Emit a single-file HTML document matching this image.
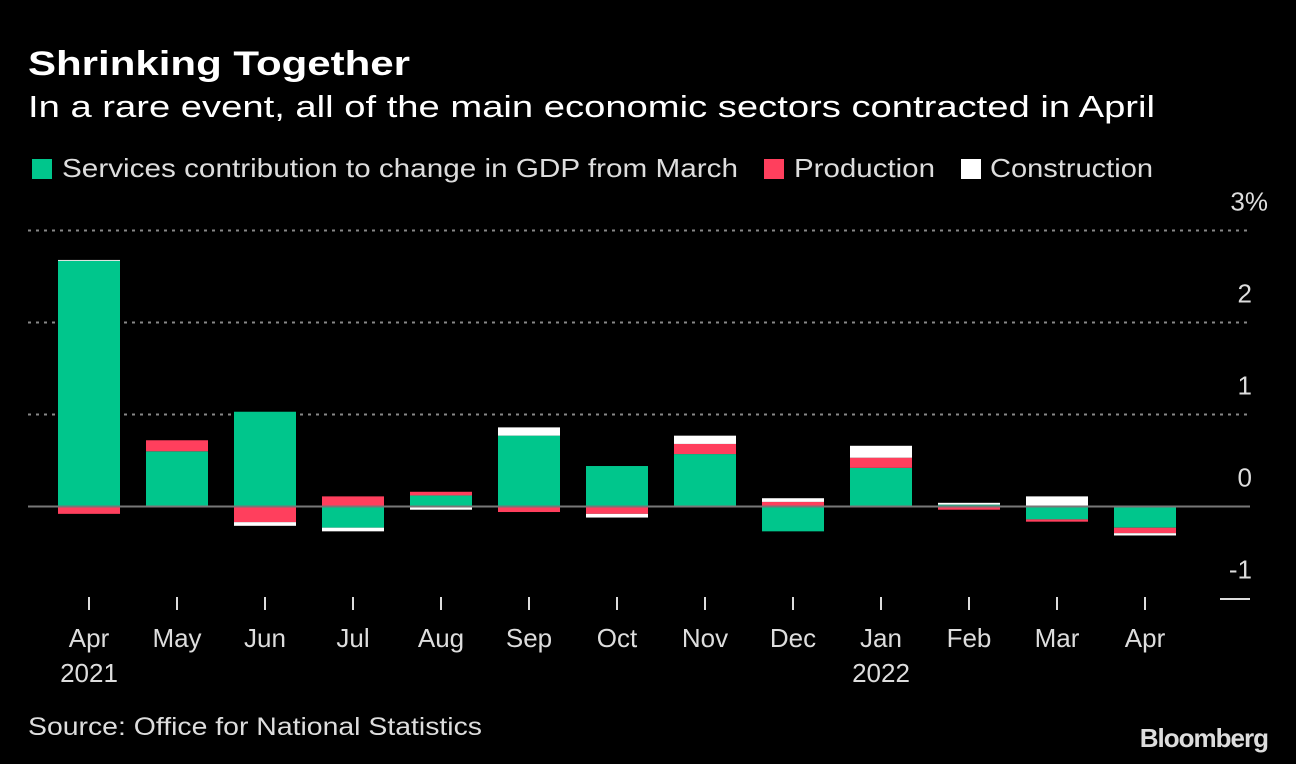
<!DOCTYPE html>
<html><head><meta charset="utf-8"><style>
body{margin:0;background:#000;width:1296px;height:764px;overflow:hidden;font-family:"Liberation Sans",sans-serif;color:#fff}
svg{position:absolute;left:0;top:0}
</style></head><body>
<svg width="1296" height="764">
<text x="28" y="75" font-size="34" font-weight="bold" fill="#fff" textLength="382" lengthAdjust="spacingAndGlyphs">Shrinking Together</text>
<text x="28" y="117" font-size="31" fill="#fff" textLength="1127" lengthAdjust="spacingAndGlyphs">In a rare event, all of the main economic sectors contracted in April</text>
<g font-size="26" fill="#ddd">
<rect x="32" y="159" width="20" height="20" fill="#00c68c"/>
<text x="62" y="177" textLength="676" lengthAdjust="spacingAndGlyphs">Services contribution to change in GDP from March</text>
<rect x="764" y="159" width="20" height="20" fill="#ff3f5d"/>
<text x="794" y="177" textLength="141" lengthAdjust="spacingAndGlyphs">Production</text>
<rect x="961" y="159" width="20" height="20" fill="#fff"/>
<text x="990" y="177" textLength="163" lengthAdjust="spacingAndGlyphs">Construction</text>
</g>
<g id="plot"></g>
<text x="28" y="735" font-size="25" fill="#ddd" textLength="454" lengthAdjust="spacingAndGlyphs">Source: Office for National Statistics</text>
<text x="1268" y="747" font-size="26" font-weight="bold" fill="#ddd" text-anchor="end" letter-spacing="-1">Bloomberg</text>
</svg>
<script>
const categories=["Apr","May","Jun","Jul","Aug","Sep","Oct","Nov","Dec","Jan","Feb","Mar","Apr"];
const yearLabels=["2021","","","","","","","","","2022","","",""];
const services=[2.67,0.60,1.03,-0.23,0.12,0.77,0.44,0.57,-0.27,0.42,0.02,-0.14,-0.23];
const production=[-0.08,0.12,-0.17,0.11,0.04,-0.06,-0.08,0.11,0.05,0.11,-0.035,-0.025,-0.06];
const construction=[0.01,0,-0.04,-0.04,-0.035,0.09,-0.04,0.09,0.04,0.13,0.02,0.11,-0.025];
const yTicks=[3,2,1,0,-1];
const NS="http://www.w3.org/2000/svg";
const g=document.getElementById("plot");
const y=v=>506.5-v*92;
const x=i=>89+i*88;
const bw=62;
function mk(t,a){const e=document.createElementNS(NS,t);for(const k in a)e.setAttribute(k,a[k]);g.appendChild(e);return e;}
yTicks.forEach(t=>{
  if(t>0){const l=mk("line",{x1:28,x2:1250,y1:y(t),y2:y(t),stroke:"#888","stroke-width":2,"stroke-dasharray":"3 5"});
  
  }
  const tx=mk("text",{x:1252,y:y(t)-20,"font-size":26,fill:"#ddd","text-anchor":"end"});
  tx.textContent=t===3?"3%":String(t);
  if(t===3)tx.setAttribute("x",1268);
  
  
});
const ml=mk("line",{x1:1220,x2:1250,y1:y(-1)+0.5,y2:y(-1)+0.5,stroke:"#ddd","stroke-width":2});


const colors=["#00c68c","#ff3f5d","#fff"];
const names=["services","production","construction"];
categories.forEach((c,i)=>{
  let pos=0,neg=0;
  [services[i],production[i],construction[i]].forEach((v,s)=>{
    let y0,y1;
    if(v>=0){y0=pos;y1=pos+v;pos=y1;}else{y0=neg;y1=neg+v;neg=y1;}
    const top=Math.min(y(y0),y(y1)),h=Math.abs(y(y0)-y(y1));
    const r=mk("rect",{x:x(i)-bw/2,y:top,width:bw,height:h,fill:colors[s]});
    
    
  });
  const tk=mk("line",{x1:x(i),x2:x(i),y1:597,y2:610,stroke:"#ddd","stroke-width":2});
  
  
  const t=mk("text",{x:x(i),y:647,"font-size":26,fill:"#ddd","text-anchor":"middle"});
  t.textContent=c;
  
  
  if(yearLabels[i]){const yt=mk("text",{x:x(i),y:682,"font-size":26,fill:"#ddd","text-anchor":"middle"});
  yt.textContent=yearLabels[i];
  
  }
});
const z=mk("line",{x1:28,x2:1250,y1:y(0),y2:y(0),stroke:"#777","stroke-width":2});


</script>
</body></html>
